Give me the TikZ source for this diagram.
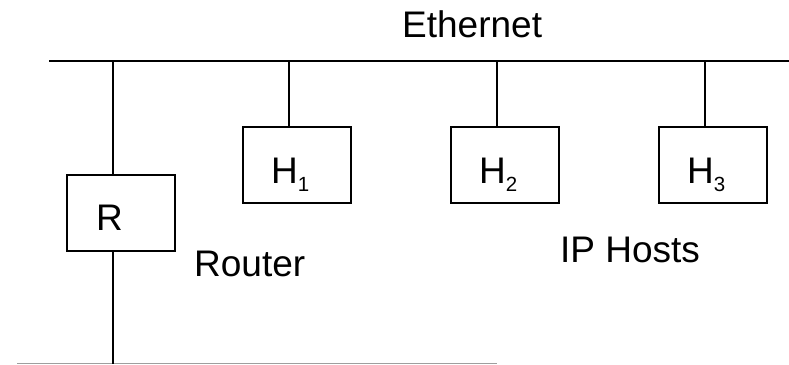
\documentclass[tikz,border=0pt]{standalone}
\usepackage{fontspec}
\setmainfont{Liberation Sans}
\usetikzlibrary{positioning}
\newcommand{\hsub}[1]{\raisebox{-8pt}{\fontsize{20.5}{24}\selectfont #1}}

\begin{document}
\begin{tikzpicture}[x=1pt,y=-1pt,
    hostbox/.style={draw,line width=2pt,minimum width=108pt,minimum height=76pt,inner sep=0pt},
    wire/.style={line width=2pt},
    lbl/.style={inner sep=0pt,anchor=base west,font=\fontsize{37}{44}\selectfont}]
  \useasboundingbox (0,0) rectangle (789,364);
  % Ethernet bus
  \coordinate (busL) at (49,61);
  \coordinate (busR) at (789,61);
  \draw[wire] (busL) -- (busR);
  \node[lbl] (eth) at (402,37) {Ethernet};
  % second network (bottom)
  \coordinate (lanL) at (17,363.3);
  \coordinate (lanR) at (497,363.3);
  \draw[line width=1.4pt,black!38] (lanL) -- (lanR);
  % router
  \node[hostbox] (R) at (121,213) {};
  \node[lbl] (Rtxt) at (96,230) {R};
  \coordinate (tapR) at (113,61);
  \coordinate (tapRend) at (113,364);
  \draw[wire] (tapR) -- (tapR |- R.north);
  \draw[wire] (tapR |- R.south) -- (tapRend);
  \node[lbl] (router) at (194,276) {Router};
  % hosts
  \foreach \i/\cx in {1/297,2/505,3/713} {
    \node[hostbox] (H\i) at (\cx,165) {};
    \coordinate (tap\i) at (\cx-8,61);
    \draw[wire] (tap\i) -- (tap\i |- H\i.north);
    \node[lbl] (H\i txt) at (\cx-26,183) {H\hsub{\i}};
  }
  \node[lbl] (hosts) at (560,262) {IP Hosts};
\end{tikzpicture}
\end{document}
